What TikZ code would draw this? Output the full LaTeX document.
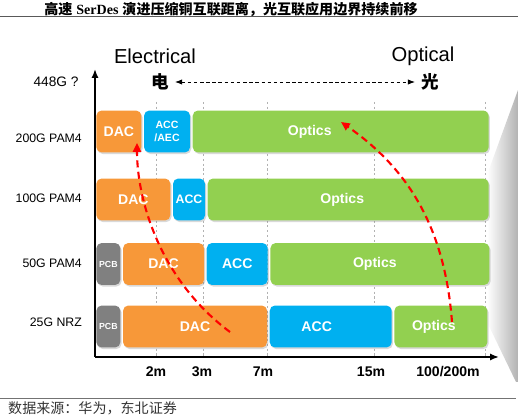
\documentclass[tikz,border=0pt]{standalone}
\usepackage{fontspec}
\setmainfont{Liberation Sans}
\newfontfamily\cjk{Noto Sans CJK SC}
\newfontfamily\timesfont{Liberation Serif}
\usetikzlibrary{arrows.meta,positioning,shadows}
\definecolor{dacorange}{RGB}{247,152,57}
\definecolor{accblue}{RGB}{0,176,240}
\definecolor{optgreen}{RGB}{146,208,80}
\definecolor{pcbgray}{RGB}{128,128,128}

\begin{document}
\begin{tikzpicture}[
  x=0.02cm, y=-0.02cm,
  seg/.style={rounded corners=3pt, minimum height=0.84cm, inner sep=0pt, text=white,
    font=\fontsize{8}{9}\selectfont\bfseries,
    drop shadow={shadow xshift=0.7pt, shadow yshift=-0.9pt, opacity=0.3}},
  dacbox/.style={seg, fill=dacorange},
  accbox/.style={seg, fill=accblue},
  optbox/.style={seg, fill=optgreen},
  pcbbox/.style={seg, fill=pcbgray, font=\fontsize{5}{6}\selectfont\bfseries},
  rowlab/.style={anchor=east, font=\fontsize{7}{8}\selectfont},
  tick/.style={font=\fontsize{8}{9}\selectfont\bfseries},
  redarr/.style={red, line width=1.2pt, dash pattern=on 4pt off 2.5pt, -{Triangle[length=5pt,width=4.5pt]}},
  axis/.style={line width=1pt, -{Latex[length=5pt,width=4pt]}},
  node distance=0.04cm
]
\useasboundingbox (0,0) rectangle (518,415);

% title and rules
\node[font=\fontsize{8}{10}\selectfont\bfseries] (title) at (231,9)
  {{\cjk 高速} {\timesfont SerDes} {\cjk 演进压缩铜互联距离，光互联应用边界持续前移}};
\draw[line width=0.9pt, black!65] (0,16.5) -- (518,16.5);
\draw[line width=0.5pt, black!55] (0,398) -- (516,398);
\node[anchor=west, font=\fontsize{8}{10}\selectfont\cjk, black!80] (src) at (2,408) {数据来源：华为，东北证券};

% grey wedge on the right
\shade[left color=white, right color=black!30] (518,90) -- (487,175) -- (487,322) -- (516,382) -- (518,382) -- cycle;

% header
\node[font=\fontsize{11.5}{13}\selectfont] (elec) at (155,56) {Electrical};
\node[font=\fontsize{11.5}{13}\selectfont] (opti) at (423,56) {Optical};
\node[font=\fontsize{10}{12}\selectfont\cjk\bfseries] (dian) at (160,82) {电};
\node[font=\fontsize{10}{12}\selectfont\cjk\bfseries] (guang) at (430,82) {光};
\draw[line width=0.5pt, dash pattern=on 2pt off 1.5pt, {Latex[length=4pt]}-{Latex[length=4pt]}] (dian) -- (guang);
\node[font=\fontsize{7.8}{9}\selectfont] (q448) at (56,82) {448G ?};

% grid and ticks
\foreach \gx/\lab/\lx in {156/2m/156, 203/3m/202, 267/7m/263, 374/15m/371, 485/{100/200m}/448} {
  \draw[black!30, line width=0.5pt, dash pattern=on 1.2pt off 1.5pt] (\gx,102) -- (\gx,357);
  \node[tick] at (\lx,372) {\lab};
}

% axes
\coordinate (orig) at (95,357);
\coordinate (ytop) at (95,69);
\coordinate (xend) at (499,357);
\draw[axis] (orig) -- (ytop);
\draw[axis] (orig) -- (xend);

% row labels
\node[rowlab] (r200) at (88,138) {200G PAM4};
\node[rowlab] (r100) at (88,198) {100G PAM4};
\node[rowlab] (r50) at (88,263) {50G PAM4};
\node[rowlab] (r25) at (88,322) {25G NRZ};

% 200G PAM4
\node[dacbox, minimum width=0.9cm, anchor=west] (dacA) at (96,131.5) {DAC};
\node[accbox, minimum width=0.92cm, right=of dacA, align=center, font=\fontsize{6}{7}\selectfont\bfseries] (accA) {ACC\\/AEC};
\node[optbox, minimum width=5.92cm, right=of accA] (optA) {Optics\hspace*{1.24cm}};

% 100G PAM4
\node[dacbox, minimum width=1.48cm, anchor=west] (dacB) at (96,199.5) {DAC};
\node[accbox, minimum width=0.64cm, right=of dacB, font=\fontsize{7}{8}\selectfont\bfseries] (accB) {ACC};
\node[optbox, minimum width=5.62cm, right=of accB] (optB) {Optics\hspace*{0.24cm}};

% 50G PAM4
\node[pcbbox, minimum width=0.48cm, anchor=west] (pcbC) at (96,264) {PCB};
\node[dacbox, minimum width=1.62cm, right=of pcbC] (dacC) {DAC};
\node[accbox, minimum width=1.22cm, right=of dacC] (accC) {ACC};
\node[optbox, minimum width=4.38cm, right=of accC] (optC) {Optics\hspace*{0.2cm}};

% 25G NRZ
\node[pcbbox, minimum width=0.48cm, anchor=west] (pcbD) at (96,326.5) {PCB};
\node[dacbox, minimum width=2.88cm, right=of pcbD] (dacD) {DAC};
\node[accbox, minimum width=2.44cm, right=of dacD] (accD) {ACC\hspace*{0.56cm}};
\node[optbox, minimum width=1.86cm, right=of accD] (optD) {Optics\hspace*{0.28cm}};

% copper reach shrinking, optics moving in
\coordinate (cuFrom) at (230,332);
\coordinate (cuTo) at (137,143);
\coordinate (opFrom) at (452,322);
\coordinate (opTo) at (341,122);
\draw[redarr] (cuFrom) .. controls (160,280) and (137,200) .. (cuTo);
\draw[redarr] (opFrom) .. controls (445,230) and (410,170) .. (opTo);
\end{tikzpicture}
\end{document}
